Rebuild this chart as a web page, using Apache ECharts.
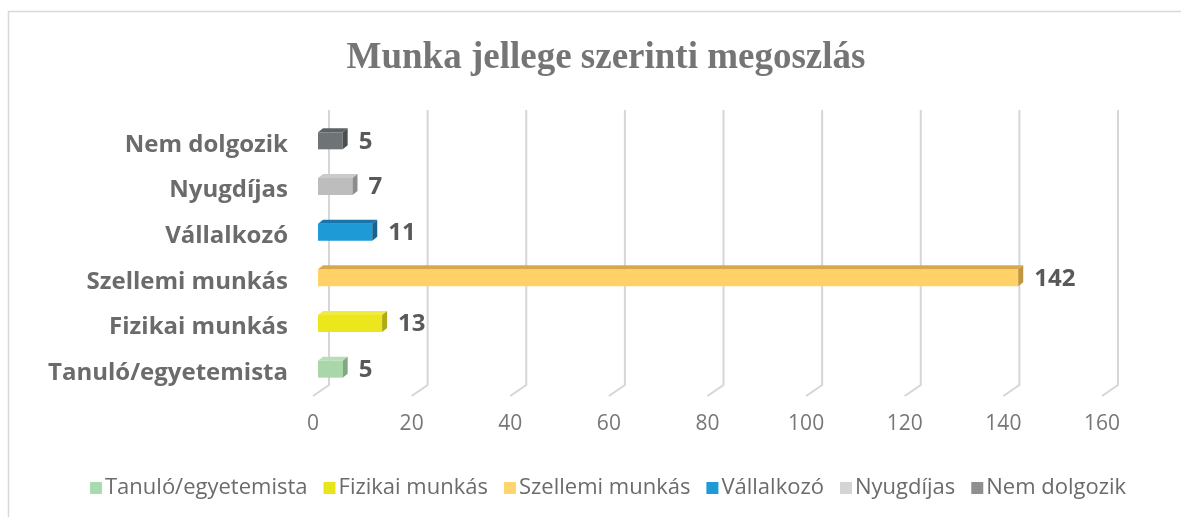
<!DOCTYPE html>
<html>
<head>
<meta charset="utf-8">
<script src="https://cdn.jsdelivr.net/npm/echarts@6/dist/echarts.min.js"></script>
<style>
html,body{margin:0;padding:0;background:#fff;}
#chart{width:1181px;height:517px;}
</style>
</head>
<body>
<div id="chart"></div>
<script>
// ---- data ----
var categories = ['Tanuló/egyetemista', 'Fizikai munkás', 'Szellemi munkás', 'Vállalkozó', 'Nyugdíjas', 'Nem dolgozik'];
var values = [5, 13, 142, 11, 7, 5];
var tickValues = [0, 20, 40, 60, 80, 100, 120, 140, 160];
var titleText = 'Munka jellege szerinti megoszlás';

// ---- styles ----
var frontColors  = ['#a9d7a9', '#ebe71c', '#ffd166', '#1e9ad6', '#bdbdbd', '#6e7376'];
var topColors    = ['#b6dfb6', '#f0ec3e', '#d8a94b', '#1a76aa', '#cacaca', '#5d6265'];
var sideColors   = ['#80a980', '#aeab15', '#c09640', '#15648d', '#8d8d8d', '#4b4f52'];
var legendColors = ['#a9dbb1', '#e6e619', '#ffd56f', '#1e9ad6', '#d4d4d4', '#8f8f8f'];

var DX = 5, DY = -4, BAR_H = 17;

var chart = echarts.init(document.getElementById('chart'));

var series = [];
// grid lines (3D back wall + floor)
series.push({
  type: 'custom',
  name: '_grid',
  silent: true,
  legendHoverLink: false,
  data: tickValues.map(function (v) { return [v]; }),
  renderItem: function (params, api) {
    var cs = params.coordSys;
    var p = api.coord([api.value(0), 0]);
    var x = p[0];
    var yb = cs.y + cs.height;
    var bx = x + 16, by = yb - 11;
    var style = { stroke: '#d6d6d6', lineWidth: 2, fill: null };
    return {
      type: 'group',
      children: [
        { type: 'polyline', shape: { points: [[x, yb], [bx, by], [bx, cs.y - 12]] }, style: style }
      ]
    };
  },
  z: 1
});

categories.forEach(function (c, i) {
  series.push({
    type: 'custom',
    name: c,
    itemStyle: { color: legendColors[i] },
    data: [[values[i], i]],
    renderItem: function (params, api) {
      var v = api.value(0), ci = api.value(1);
      var s = api.coord([0, ci]);
      var e = api.coord([v, ci]);
      var x0 = s[0] + DX, x1 = e[0] + DX;
      var yc = s[1] + DY;
      var yt = yc - BAR_H / 2, yb = yc + BAR_H / 2;
      return {
        type: 'group',
        children: [
          { type: 'rect', shape: { x: x0, y: yt, width: x1 - x0, height: BAR_H }, style: { fill: frontColors[i] } },
          { type: 'polygon', shape: { points: [[x0, yt], [x1, yt], [x1 + DX, yt + DY], [x0 + DX, yt + DY]] }, style: { fill: topColors[i] } },
          { type: 'polygon', shape: { points: [[x1, yt], [x1 + DX, yt + DY], [x1 + DX, yb + DY], [x1, yb]] }, style: { fill: sideColors[i] } },
          { type: 'text', x: x1 + DX + 11, y: yc + 1, style: { text: String(v), fontFamily: 'Open Sans', fontWeight: 'bold', fontSize: 24, fill: '#595959', verticalAlign: 'middle', align: 'left' } }
        ]
      };
    },
    z: 3
  });
});

chart.setOption({
  animation: false,
  backgroundColor: '#ffffff',
  title: {
    text: titleText,
    left: 601,
    textAlign: 'center',
    top: 35,
    textStyle: { fontFamily: 'Liberation Serif', fontWeight: 'bold', fontSize: 37, color: '#757575' }
  },
  graphic: [
    { type: 'rect', shape: { x: 8.5, y: 11.5, width: 1300, height: 700 }, style: { fill: null, stroke: '#d9d9d9', lineWidth: 1.5 }, silent: true, z: 0 }
  ],
  legend: {
    data: categories,
    left: 85,
    top: 472,
    itemWidth: 12,
    itemHeight: 12,
    itemGap: 16,
    icon: 'rect',
    textStyle: { fontFamily: 'Open Sans', fontSize: 22, color: '#6b6b6b', padding: [0, 0, 0, -2] }
  },
  grid: { left: 313, right: 79, top: 122, bottom: 121 },
  xAxis: {
    type: 'value',
    min: 0, max: 160, interval: 20,
    axisLine: { show: false },
    axisTick: { show: false },
    splitLine: { show: false },
    axisLabel: { margin: 18, fontFamily: 'Open Sans', fontSize: 21, color: '#777777' }
  },
  yAxis: {
    type: 'category',
    data: categories,
    axisLine: { show: false },
    axisTick: { show: false },
    axisLabel: { margin: 25, fontFamily: 'Open Sans', fontWeight: 'bold', fontSize: 24, color: '#6b6b6b' }
  },
  series: series
});
</script>
</body>
</html>
